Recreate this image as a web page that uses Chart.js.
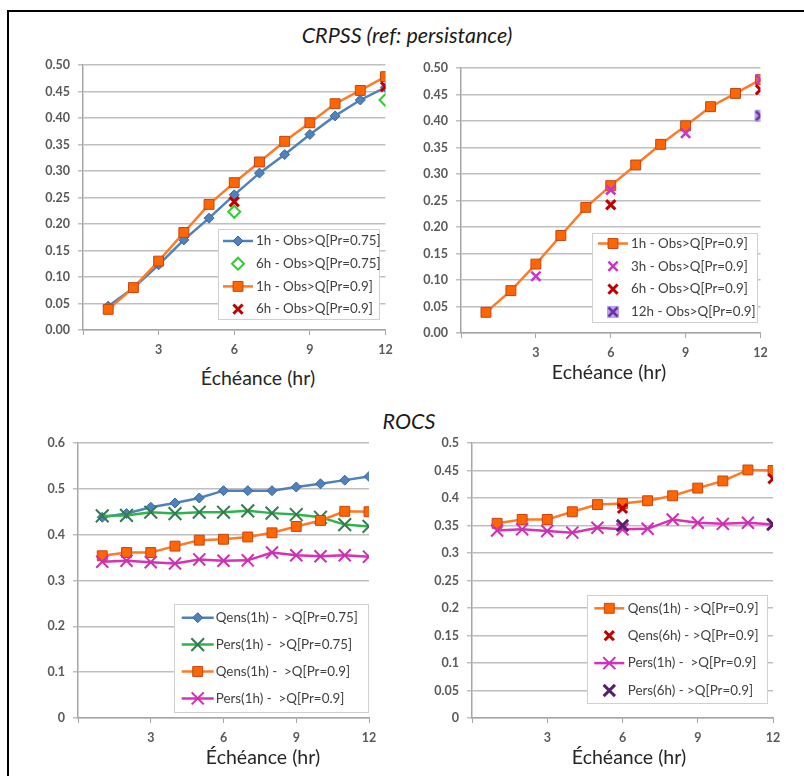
<!DOCTYPE html>
<html lang="fr">
<head>
<meta charset="UTF-8">
<title>CRPSS / ROCS</title>
<script src="https://cdn.jsdelivr.net/npm/chart.js@4"></script>
<style>
  * { box-sizing: border-box; margin: 0; padding: 0; }
  html, body { width: 804px; height: 776px; overflow: hidden; background: #fff; font-family: Lato, 'Open Sans', sans-serif; }
  #page { position: relative; width: 804px; height: 776px; overflow: hidden; }
  .cadre { position: absolute; left: 7px; top: 10px; width: 900px; height: 900px; border: 2px solid #000; }
  canvas { position: absolute; }
  .titre { position: absolute; transform: translate(-50%, -50%); font-style: italic; font-size: 21.5px; color: #1a1a1a; white-space: nowrap; }
  .axe { position: absolute; transform: translate(-50%, -50%); font-size: 19.5px; color: #262626; white-space: nowrap; }
</style>
</head>
<body>
<div id="page">
  <div class="cadre"></div>
  <div class="titre" style="left:407px; top:35px;">CRPSS (ref: persistance)</div>
  <div class="titre" style="left:409px; top:421px;">ROCS</div>

  <canvas id="c1" width="385" height="305" style="left:10px; top:55px;"></canvas>
  <canvas id="c2" width="370" height="305" style="left:400px; top:55px;"></canvas>
  <canvas id="c3" width="370" height="320" style="left:10px; top:430px;"></canvas>
  <canvas id="c4" width="384" height="320" style="left:400px; top:430px;"></canvas>

  <div class="axe" style="left:258px; top:377px;">Échéance (hr)</div>
  <div class="axe" style="left:609px; top:371px;">Echéance (hr)</div>
  <div class="axe" style="left:263px; top:756px;">Échéance (hr)</div>
  <div class="axe" style="left:629px; top:756px;">Échéance (hr)</div>
</div>

<script>
// échéances (heures)
const heures = [1, 2, 3, 4, 5, 6, 7, 8, 9, 10, 11, 12];
const heures3 = [3, 6, 9, 12];
const heures6 = [6, 12];
const heures12 = [12];
const xTicks = [0, 3, 6, 9, 12];

// CRPSS (ref: persistance)
const crpss1h075 = [0.045, 0.079, 0.123, 0.170, 0.211, 0.255, 0.296, 0.331, 0.369, 0.404, 0.434, 0.458];
const crpss6h075 = [0.223, 0.434];
const crpss1h09 = [0.039, 0.080, 0.130, 0.184, 0.237, 0.278, 0.317, 0.356, 0.391, 0.427, 0.452, 0.478];
const crpss6h09 = [0.242, 0.459];
const crpss3h09 = [0.107, 0.270, 0.377, 0.478];
const crpss12h09 = [0.410];

// ROCS
const rocsQens1h075 = [0.438, 0.446, 0.460, 0.469, 0.480, 0.496, 0.496, 0.496, 0.504, 0.511, 0.519, 0.527];
const rocsPers1h075 = [0.441, 0.442, 0.449, 0.446, 0.449, 0.449, 0.452, 0.447, 0.444, 0.438, 0.422, 0.418];
const rocsQens1h09 = [0.354, 0.361, 0.361, 0.375, 0.388, 0.390, 0.395, 0.404, 0.418, 0.431, 0.451, 0.450];
const rocsPers1h09 = [0.341, 0.343, 0.340, 0.337, 0.346, 0.343, 0.344, 0.361, 0.355, 0.353, 0.355, 0.352];
const rocsQens6h09 = [0.381, 0.435];
const rocsPers6h09 = [0.350, 0.352];

Chart.defaults.font.family = 'Lato, "Open Sans", sans-serif';
Chart.defaults.animation = false;

// légende encadrée dessinée dans la zone du graphique
const legendeBoite = {
  id: 'legendeBoite',
  beforeDatasetsDraw(chart, args, o) {
    if (!o || !o.w) return;
    const ctx = chart.ctx;
    ctx.save();
    ctx.fillStyle = '#fff';
    ctx.fillRect(o.x, o.y, o.w, o.h);
    ctx.strokeStyle = '#D0D0D0';
    ctx.lineWidth = 1;
    ctx.strokeRect(o.x + 0.5, o.y + 0.5, o.w - 1, o.h - 1);
    ctx.font = '13.4px Lato, "Open Sans", sans-serif';
    ctx.textBaseline = 'middle';
    chart.data.datasets.forEach((ds, i) => {
      const cy = o.y + o.first + i * o.rowH;
      const mx = o.x + o.markX;
      if (ds.showLine !== false) {
        ctx.strokeStyle = ds.borderColor;
        ctx.lineWidth = ds.borderWidth;
        ctx.beginPath();
        ctx.moveTo(mx - o.half, cy);
        ctx.lineTo(mx + o.half, cy);
        ctx.stroke();
      }
      ctx.fillStyle = ds.pointBackgroundColor || ds.pointBorderColor;
      ctx.strokeStyle = ds.pointBorderColor;
      ctx.lineWidth = ds.pointBorderWidth;
      Chart.helpers.drawPoint(ctx, {
        pointStyle: ds.pointStyle, radius: ds.pointRadius, rotation: 0, borderWidth: ds.pointBorderWidth
      }, mx, cy);
      ctx.fillStyle = '#404040';
      ctx.fillText(ds.label, o.x + o.textX, cy);
    });
    ctx.restore();
  }
};
Chart.register(legendeBoite);

const tickFont = { size: 12.5, weight: 'bold' };

function axes(ymax, ystep, fmt, yw, xh) {
  return {
    x: {
      type: 'linear', min: 0, max: 12,
      afterBuildTicks: s => { s.ticks = xTicks.map(v => ({ value: v })); },
      ticks: { callback: v => v === 0 ? '' : v, padding: 7, color: '#595959', font: tickFont, maxRotation: 0 },
      grid: { drawOnChartArea: false, tickLength: 5, color: '#A6A6A6' },
      border: { color: '#A6A6A6', width: 1.5 },
      afterFit: s => { s.height = xh; s.paddingLeft = 0; s.paddingRight = 0; }
    },
    y: {
      min: 0, max: ymax,
      ticks: { stepSize: ystep, callback: fmt, padding: 8, color: '#595959', font: tickFont },
      grid: { color: '#BFBFBF', lineWidth: 1.5, tickLength: 5 },
      border: { color: '#A6A6A6', width: 1.5 },
      afterFit: s => { s.width = yw; s.paddingTop = 0; s.paddingBottom = 0; }
    }
  };
}

function serie(label, xs, ys, style, order) {
  return Object.assign({ label, order, data: xs.map((x, i) => ({ x, y: ys[i] })) }, style);
}

function graphique(id, datasets, scales, padding, legende) {
  new Chart(document.getElementById(id), {
    type: 'line',
    data: { datasets },
    options: {
      responsive: false,
      devicePixelRatio: 1,
      layout: { padding },
      scales,
      plugins: { legend: { display: false }, tooltip: { enabled: false }, legendeBoite: legende }
    }
  });
}

// styles des séries
const bleu = { borderColor: '#4F81BD', borderWidth: 2.5, pointStyle: 'rectRot', pointRadius: 5,
  pointBackgroundColor: '#4F81BD', pointBorderColor: '#3A67A0', pointBorderWidth: 1 };
const orange = { borderColor: '#FF7A26', borderWidth: 2.5, pointStyle: 'rect', pointRadius: 7,
  pointBackgroundColor: '#FF6600', pointBorderColor: '#C2461A', pointBorderWidth: 1 };
const vertOuvert = { showLine: false, pointStyle: 'rectRot', pointRadius: 6,
  pointBackgroundColor: '#fff', pointBorderColor: '#2ECC2E', pointBorderWidth: 2 };
const rougeX = { showLine: false, pointStyle: 'crossRot', pointRadius: 6.5,
  pointBackgroundColor: '#C00000', pointBorderColor: '#C00000', pointBorderWidth: 3 };
const vertX = { borderColor: '#2DB54B', borderWidth: 2.5, pointStyle: 'crossRot', pointRadius: 9,
  pointBackgroundColor: '#357A50', pointBorderColor: '#357A50', pointBorderWidth: 2 };
const magentaX = { borderColor: '#D631B8', borderWidth: 2.5, pointStyle: 'crossRot', pointRadius: 8.5,
  pointBackgroundColor: '#CC2FB0', pointBorderColor: '#CC2FB0', pointBorderWidth: 2 };
const magentaPts = { showLine: false, pointStyle: 'crossRot', pointRadius: 6.5,
  pointBackgroundColor: '#CC33CC', pointBorderColor: '#CC33CC', pointBorderWidth: 2.5 };
const violetFonce = { showLine: false, pointStyle: 'crossRot', pointRadius: 8,
  pointBackgroundColor: '#5A1E6E', pointBorderColor: '#5A1E6E', pointBorderWidth: 3 };

const marque12 = document.createElement('canvas');
marque12.width = 14; marque12.height = 14;
const m = marque12.getContext('2d');
m.fillStyle = '#B4A5F2';
m.fillRect(1, 1, 12, 12);
m.strokeStyle = '#7030A0';
m.lineWidth = 2.5;
m.beginPath();
m.moveTo(2.5, 2.5); m.lineTo(11.5, 11.5);
m.moveTo(11.5, 2.5); m.lineTo(2.5, 11.5);
m.stroke();
const violet12 = { showLine: false, pointStyle: marque12, pointRadius: 7,
  pointBackgroundColor: '#B4A5F2', pointBorderColor: '#7030A0', pointBorderWidth: 0 };

const fmt2 = v => v.toFixed(2);
const fmtCourt = v => String(+v.toFixed(2));

graphique('c1', [
  serie('1h - Obs>Q[Pr=0.75]', heures, crpss1h075, bleu, 3),
  serie('6h - Obs>Q[Pr=0.75]', heures6, crpss6h075, vertOuvert, 1),
  serie('1h - Obs>Q[Pr=0.9]', heures, crpss1h09, orange, 2),
  serie('6h - Obs>Q[Pr=0.9]', heures6, crpss6h09, rougeX, 0)
], axes(0.5, 0.05, fmt2, 73, 30), { top: 10, right: 8 },
  { x: 208, y: 174, w: 162, h: 91, first: 12, rowH: 22.7, markX: 20, half: 15, textX: 38 });

graphique('c2', [
  serie('1h - Obs>Q[Pr=0.9]', heures, crpss1h09, orange, 3),
  serie('3h - Obs>Q[Pr=0.9]', heures3, crpss3h09, magentaPts, 2),
  serie('6h - Obs>Q[Pr=0.9]', heures6, crpss6h09, rougeX, 1),
  serie('12h - Obs>Q[Pr=0.9]', heures12, crpss12h09, violet12, 0)
], axes(0.5, 0.05, fmt2, 61, 27), { top: 13, right: 7 },
  { x: 192, y: 178, w: 166, h: 90, first: 10.5, rowH: 22.8, markX: 21, half: 15, textX: 39 });

graphique('c3', [
  serie('Qens(1h) -  >Q[Pr=0.75]', heures, rocsQens1h075, bleu, 3),
  serie('Pers(1h) -  >Q[Pr=0.75]', heures, rocsPers1h075, vertX, 2),
  serie('Qens(1h) -  >Q[Pr=0.9]', heures, rocsQens1h09, orange, 1),
  serie('Pers(1h) -  >Q[Pr=0.9]', heures, rocsPers1h09, magentaX, 0)
], axes(0.6, 0.1, fmtCourt, 68, 32), { top: 13, right: 7 },
  { x: 164, y: 174, w: 195, h: 109, first: 13.7, rowH: 26.9, markX: 23.7, half: 16, textX: 41.7 });

graphique('c4', [
  serie('Qens(1h) - >Q[Pr=0.9]', heures, rocsQens1h09, orange, 2),
  serie('Qens(6h) - >Q[Pr=0.9]', heures6, rocsQens6h09, rougeX, 0),
  serie('Pers(1h) -  >Q[Pr=0.9]', heures, rocsPers1h09, magentaX, 1),
  serie('Pers(6h) - >Q[Pr=0.9]', heures6, rocsPers6h09, violetFonce, 0)
], axes(0.5, 0.05, fmtCourt, 72, 32), { top: 13, right: 10 },
  { x: 187, y: 165, w: 181, h: 109, first: 13.3, rowH: 27.4, markX: 22.3, half: 15, textX: 40.7 });
</script>
</body>
</html>
